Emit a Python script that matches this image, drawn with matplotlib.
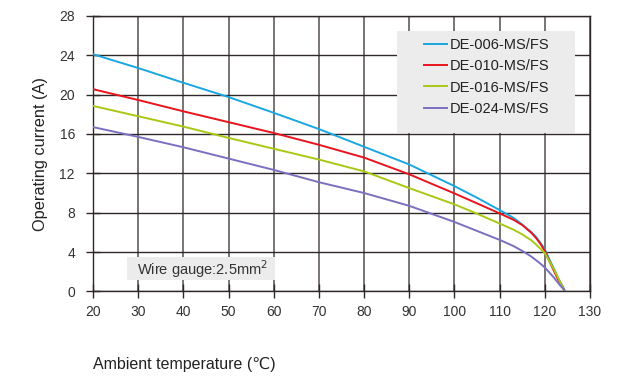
import matplotlib
matplotlib.use("Agg")
import matplotlib.pyplot as plt
from matplotlib.patches import Rectangle

plt.rcParams['font.family'] = ['Liberation Sans', 'DejaVu Sans']

# Ambient temperature (°C) and derated operating current (A) per model
temp = [20, 30, 40, 50, 60, 70, 80, 90, 100, 105, 110, 113, 115, 117, 118,
        119, 120, 121, 122, 123, 124, 124.5]
de_006 = [24.1, 22.7, 21.2, 19.75, 18.15, 16.5, 14.7, 12.9, 10.7, 9.52, 8.27, 7.5, 6.8, 6.03, 5.57,
          4.96, 4.29, 3.28, 2.33, 1.32, 0.5, 0.0]
de_010 = [20.55, 19.45, 18.3, 17.2, 16.1, 14.9, 13.6, 11.9, 9.96, 8.95, 7.93, 7.3, 6.75, 5.97, 5.47,
          4.86, 4.12, 3.1, 2.1, 1.15, 0.4, 0.0]
de_016 = [18.85, 17.8, 16.75, 15.6, 14.5, 13.4, 12.2, 10.5, 8.85, 7.9, 6.9, 6.3, 5.8, 5.2, 4.8,
          4.35, 3.9, 3.1, 2.26, 1.32, 0.4, 0.0]
de_024 = [16.7, 15.7, 14.65, 13.5, 12.35, 11.1, 10.0, 8.7, 7.06, 6.15, 5.24, 4.63, 4.12, 3.55, 3.2,
          2.84, 2.43, 1.93, 1.42, 0.84, 0.3, 0.0]

series = [
    ("DE-006-MS/FS", de_006, "#1aa7e0"),
    ("DE-010-MS/FS", de_010, "#e8141e"),
    ("DE-016-MS/FS", de_016, "#a8c813"),
    ("DE-024-MS/FS", de_024, "#7b6fbf"),
]

x_ticks = list(range(20, 131, 10))
y_ticks = list(range(0, 29, 4))

fig = plt.figure(figsize=(6.33, 3.78), dpi=100)
ax = fig.add_axes([0.147, 0.229, 0.785, 0.729])

for label, vals, color in series:
    ax.plot(temp, vals, color=color, lw=1.4, label=label, zorder=3,
            solid_joinstyle='round')

ax.set_xlim(20, 130)
ax.set_ylim(0, 28)
ax.set_xticks(x_ticks)
ax.set_yticks(y_ticks)

# grid: lighter, wider verticals and dark horizontals
for xv in x_ticks:
    ax.axvline(xv, color="#6e6868", lw=1.3, zorder=0.5)
for yv in y_ticks:
    ax.axhline(yv, color="#2e2828", lw=1.0, zorder=0.5)

for s in ax.spines.values():
    s.set_color("#2e2828")
    s.set_linewidth(1.0)

ax.tick_params(direction='inout', length=10, width=1.0, color="#2e2828",
               labelsize=10, labelcolor="#333333")
ax.tick_params(axis='y', pad=8)
ax.tick_params(axis='x', pad=5)

ax.set_ylabel("Operating current (A)", fontsize=11.8, color="#222222", labelpad=8)
fig.text(0.147, 0.037, "Ambient temperature (\u2103)", fontsize=11.5,
         color="#222222", ha='left', va='center')

# legend panel
ax.add_patch(Rectangle((0.612, 0.575), 0.358, 0.369, transform=ax.transAxes,
                       facecolor="#ececec", edgecolor="none", zorder=2))
leg = ax.legend(loc='upper left', bbox_to_anchor=(0.666, 0.92), frameon=False,
                fontsize=10.5, handlelength=1.58, handletextpad=0.2,
                labelspacing=0.5, borderaxespad=0, borderpad=0)
leg.set_zorder(5)
for t in leg.get_texts():
    t.set_color("#222222")

# wire gauge note
ax.add_patch(Rectangle((27.5, 1.17), 32.8, 2.36, facecolor="#ececec",
                       edgecolor="none", zorder=2))
ax.text(44.3, 2.3, "Wire gauge:2.5mm$^2$", fontsize=10.5, color="#333333",
        ha='center', va='center', zorder=4)

fig.savefig("out.png", dpi=100)
